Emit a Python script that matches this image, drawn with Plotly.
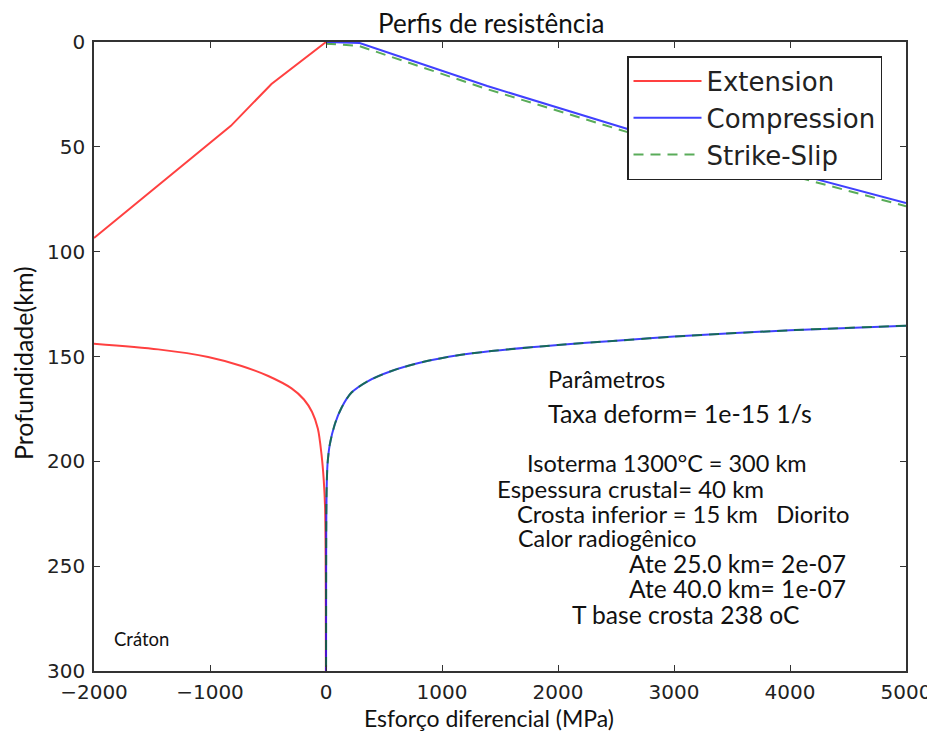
import plotly.graph_objects as go

# ---- data ----
# Extension: brittle (upper) branch and ductile (lower) branch
ext_brittle_stress = [0, -470, -820, -2000]
ext_brittle_depth = [0, 20, 40, 93.5]
ext_ductile_stress = [-2000, -1447, -1016, -728, -498, -297, -190, -120, -70, -39, -19, -8, -4, -2, -1]
ext_ductile_depth = [143.9, 146.6, 150.2, 154.5, 159.3, 165.2, 170.5, 176.5, 184.5, 196.6, 209.3, 222, 240, 265, 300]

# Compression
comp_brittle_stress = [0, 290, 1390, 2600, 5000]
comp_brittle_depth = [0, 0.5, 21, 41.5, 76.8]
comp_ductile_stress = [5000, 4000, 3000, 2500, 2000, 1426, 1139, 852, 565, 363, 220, 134, 76, 33, 13, 5, 2, 1, 0.5]
comp_ductile_depth = [135.3, 137.5, 140.5, 142.5, 144.5, 147.4, 149.4, 152.4, 156.9, 161.7, 167.2, 174.4, 182.3, 191.9, 201.4, 215, 235, 260, 300]

# Strike-slip
ss_brittle_stress = [0, 280, 1390, 2600, 5000]
ss_brittle_depth = [0.8, 1.8, 22.5, 43, 78.3]
ss_ductile_stress = comp_ductile_stress
ss_ductile_depth = comp_ductile_depth

x_ticks = [-2000, -1000, 0, 1000, 2000, 3000, 4000, 5000]
y_ticks = [0, 50, 100, 150, 200, 250, 300]

red = "rgba(255,0,0,0.75)"
blue = "rgba(0,0,255,0.75)"
green = "rgba(0,128,0,0.65)"

fig = go.Figure()
series = [
    ("Extension", ext_brittle_stress, ext_brittle_depth, ext_ductile_stress, ext_ductile_depth,
     dict(color=red, width=2)),
    ("Compression", comp_brittle_stress, comp_brittle_depth, comp_ductile_stress, comp_ductile_depth,
     dict(color=blue, width=2)),
    ("Strike-Slip", ss_brittle_stress, ss_brittle_depth, ss_ductile_stress, ss_ductile_depth,
     dict(color=green, width=2, dash="10px,7px")),
]
for name, bx, by, dx, dy, ln in series:
    fig.add_trace(go.Scatter(x=bx, y=by, mode="lines", name=name, legendgroup=name,
                             line=ln))
    fig.add_trace(go.Scatter(x=dx, y=dy, mode="lines", name=name, legendgroup=name,
                             showlegend=False, line=dict(shape="spline", smoothing=0.8, **ln)))

tick_font = dict(family="DejaVu Sans", size=20, color="#222")

# target page geometry of the plot area (page has ~7px body offset)
OFF = 7
PL, PT, PW, PH = 93, 41, 812, 629
W, H = 935, 731
ml = PL - OFF
mt = PT - OFF
mr = W - ml - PW
mb = H - mt - PH

fig.update_layout(
    width=W, height=H,
    margin=dict(l=ml, r=mr, t=mt, b=mb),
    paper_bgcolor="white", plot_bgcolor="white",
    showlegend=True,
    legend=dict(x=(626 - PL) / PW, y=1 - (55 - PT) / PH, xanchor="left", yanchor="top",
                bgcolor="white", bordercolor="#222", borderwidth=1.5,
                font=dict(family="DejaVu Sans", size=26, color="#222"),
                tracegroupgap=0, itemwidth=68),
    xaxis=dict(range=[-2000, 5000], tickvals=x_ticks, showgrid=False, zeroline=False,
               showline=True, linecolor="#333", linewidth=1.5, mirror="ticks",
               ticks="inside", ticklen=6, tickcolor="#333", tickfont=tick_font,
               ticklabelstandoff=2),
    yaxis=dict(range=[300, 0], tickvals=y_ticks, showgrid=False, zeroline=False,
               showline=True, linecolor="#333", linewidth=1.5, mirror="ticks",
               ticks="inside", ticklen=6, tickcolor="#333", tickfont=tick_font,
               ticklabelstandoff=3),
)


def px2paper(px, py):
    return (px - PL) / PW, 1 - (py - PT) / PH


ann_font = "Lato"
ann = [
    # text, page x, page y, size, anchor
    ("Perfis de resistência", 490, 22, 26, "center"),
    ("Esforço diferencial (MPa)", 488, 717, 23, "center"),
    ("Parâmetros", 545, 378, 23.5, "left"),
    ("Taxa deform= 1e-15 1/s", 545, 412, 25, "left"),
    ("Isoterma 1300°C = 300 km", 524, 462, 23.5, "left"),
    ("Espessura crustal= 40 km", 494, 487, 24, "left"),
    ("Crosta inferior = 15 km   Diorito", 514, 513, 23.8, "left"),
    ("Calor radiogênico", 515, 537, 23.3, "left"),
    ("Ate 25.0 km= 2e-07", 626, 562, 24.6, "left"),
    ("Ate 40.0 km= 1e-07", 626, 587, 24.6, "left"),
    ("T base crosta 238 oC", 569, 613, 24.6, "left"),
    ("Cráton", 111, 638, 18.5, "left"),
]
for text, px, py, fs, anc in ann:
    x, y = px2paper(px, py)
    fig.add_annotation(text=text, xref="paper", yref="paper", x=x, y=y,
                       xanchor=anc, yanchor="middle", showarrow=False,
                       font=dict(family=ann_font, size=fs, color="#111"))

x, y = px2paper(22, 362)
fig.add_annotation(text="Profundidade(km)", xref="paper", yref="paper", x=x, y=y,
                   xanchor="center", yanchor="middle", showarrow=False, textangle=-90,
                   font=dict(family=ann_font, size=25, color="#111"))

fig.write_html("out.html")
